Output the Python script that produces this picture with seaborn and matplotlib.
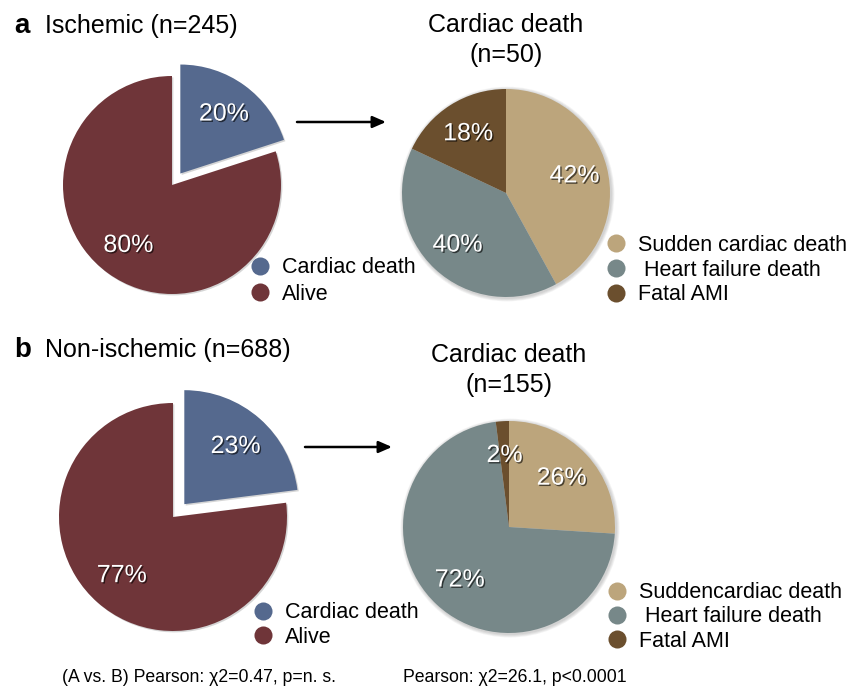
import matplotlib
matplotlib.use("Agg")
import matplotlib.pyplot as plt
import matplotlib.patheffects as pe
from matplotlib.lines import Line2D
from matplotlib.patches import Circle, FancyArrowPatch
import seaborn as sns

# ------------------------
# Data
# ------------------------
outcome_labels = ['Cardiac death', 'Alive']
ischemic_outcome = [20, 80]
nonischemic_outcome = [23, 77]

cause_labels_a = ['Sudden cardiac death', ' Heart failure death', 'Fatal AMI']
cause_labels_b = ['Suddencardiac death', ' Heart failure death', 'Fatal AMI']
ischemic_cause = [42, 40, 18]
nonischemic_cause = [26, 72, 2]

outcome_colors = ['#55698e', '#6f3539']
cause_colors = ['#bca57c', '#778889', '#6b4f2e']

sns.set_theme(style='white')
plt.rcParams['font.family'] = ['Liberation Sans', 'DejaVu Sans']
plt.rcParams['text.color'] = 'black'

W, H = 862, 687
fig = plt.figure(figsize=(W / 100, H / 100), dpi=100)

LIM = 1.3


def fx(x):
    return x / W


def fy(y):
    return 1 - y / H


def draw_pie(cx, cy, r, values, colors, explode=None):
    half = r * LIM
    ax = fig.add_axes([(cx - half) / W, (H - cy - half) / H, 2 * half / W, 2 * half / H])
    wedges, _, autotexts = ax.pie(
        values, colors=colors, explode=explode,
        startangle=90, counterclock=False,
        autopct='%.0f%%', pctdistance=0.68,
        wedgeprops=dict(linewidth=0),
        textprops=dict(color='white', fontsize=18),
    )
    if explode is not None:
        for w in wedges:
            w.set_path_effects([pe.SimplePatchShadow(offset=(1, -1), shadow_rgbFace='#777777', alpha=0.3),
                                pe.Normal()])
    else:
        # soft shadow behind the whole pie
        for k in range(4):
            ax.add_patch(Circle((0.01, -0.01), 1.0 + 0.008 * (k + 1), color='#666666',
                                alpha=0.08, lw=0, zorder=0))
    for t in autotexts:
        t.set_path_effects([pe.withSimplePatchShadow(offset=(1, -1), shadow_rgbFace='black', alpha=0.6)])
    ax.set_xlim(-LIM, LIM)
    ax.set_ylim(-LIM, LIM)
    ax.set_aspect('equal')
    ax.axis('off')
    return wedges


def add_legend(x_left, y_mid, labels, colors, spacing):
    handles = [Line2D([], [], marker='o', linestyle='', markersize=13,
                      markerfacecolor=c, markeredgewidth=0) for c in colors]
    fig.legend(handles, labels, loc='center left', bbox_to_anchor=(fx(x_left), fy(y_mid)),
               frameon=False, fontsize=15.5, handlelength=1.0, handletextpad=0.55,
               labelspacing=spacing, borderpad=0, borderaxespad=0, labelcolor='black')


# ----------------------------------------
# a: Ischemic
# ----------------------------------------
draw_pie(172, 185, 109, ischemic_outcome, outcome_colors, explode=[0.13, 0])
draw_pie(506, 193, 104, ischemic_cause, cause_colors)
add_legend(249, 281, outcome_labels, outcome_colors, 0.26)
add_legend(605, 270, cause_labels_a, cause_colors, 0.17)

fig.text(fx(14), fy(33), 'a', fontsize=20, fontweight='bold', va='baseline')
fig.text(fx(45), fy(33), 'Ischemic (n=245)', fontsize=18, va='baseline')
fig.text(fx(506), fy(32), 'Cardiac death', fontsize=18, ha='center', va='baseline')
fig.text(fx(506), fy(62), '(n=50)', fontsize=18, ha='center', va='baseline')

# ----------------------------------------
# b: Non-ischemic
# ----------------------------------------
draw_pie(173, 517, 114, nonischemic_outcome, outcome_colors, explode=[0.15, 0])
draw_pie(509, 527, 106, nonischemic_cause, cause_colors)
add_legend(252, 625, outcome_labels, outcome_colors, 0.17)
add_legend(606, 617, cause_labels_b, cause_colors, 0.15)

fig.text(fx(14), fy(357), 'b', fontsize=20, fontweight='bold', va='baseline')
fig.text(fx(45), fy(357), 'Non-ischemic (n=688)', fontsize=18, va='baseline')
fig.text(fx(509), fy(362), 'Cardiac death', fontsize=18, ha='center', va='baseline')
fig.text(fx(509), fy(392), '(n=155)', fontsize=18, ha='center', va='baseline')

# arrows
for (x0, x1, y) in [(297, 386, 122), (305, 392, 447)]:
    fig.add_artist(FancyArrowPatch(
        (fx(x0), fy(y)), (fx(x1), fy(y)), transform=fig.transFigure,
        arrowstyle='-|>,head_length=8,head_width=3.5', lw=1.8, color='black',
        shrinkA=0, shrinkB=0))

# statistics
fig.text(fx(62), fy(682), '(A vs. B) Pearson: χ2=0.47, p=n. s.', fontsize=12.7, va='baseline')
fig.text(fx(403), fy(682), 'Pearson: χ2=26.1, p<0.0001', fontsize=12.7, va='baseline')

plt.savefig('out.png', dpi=100)
